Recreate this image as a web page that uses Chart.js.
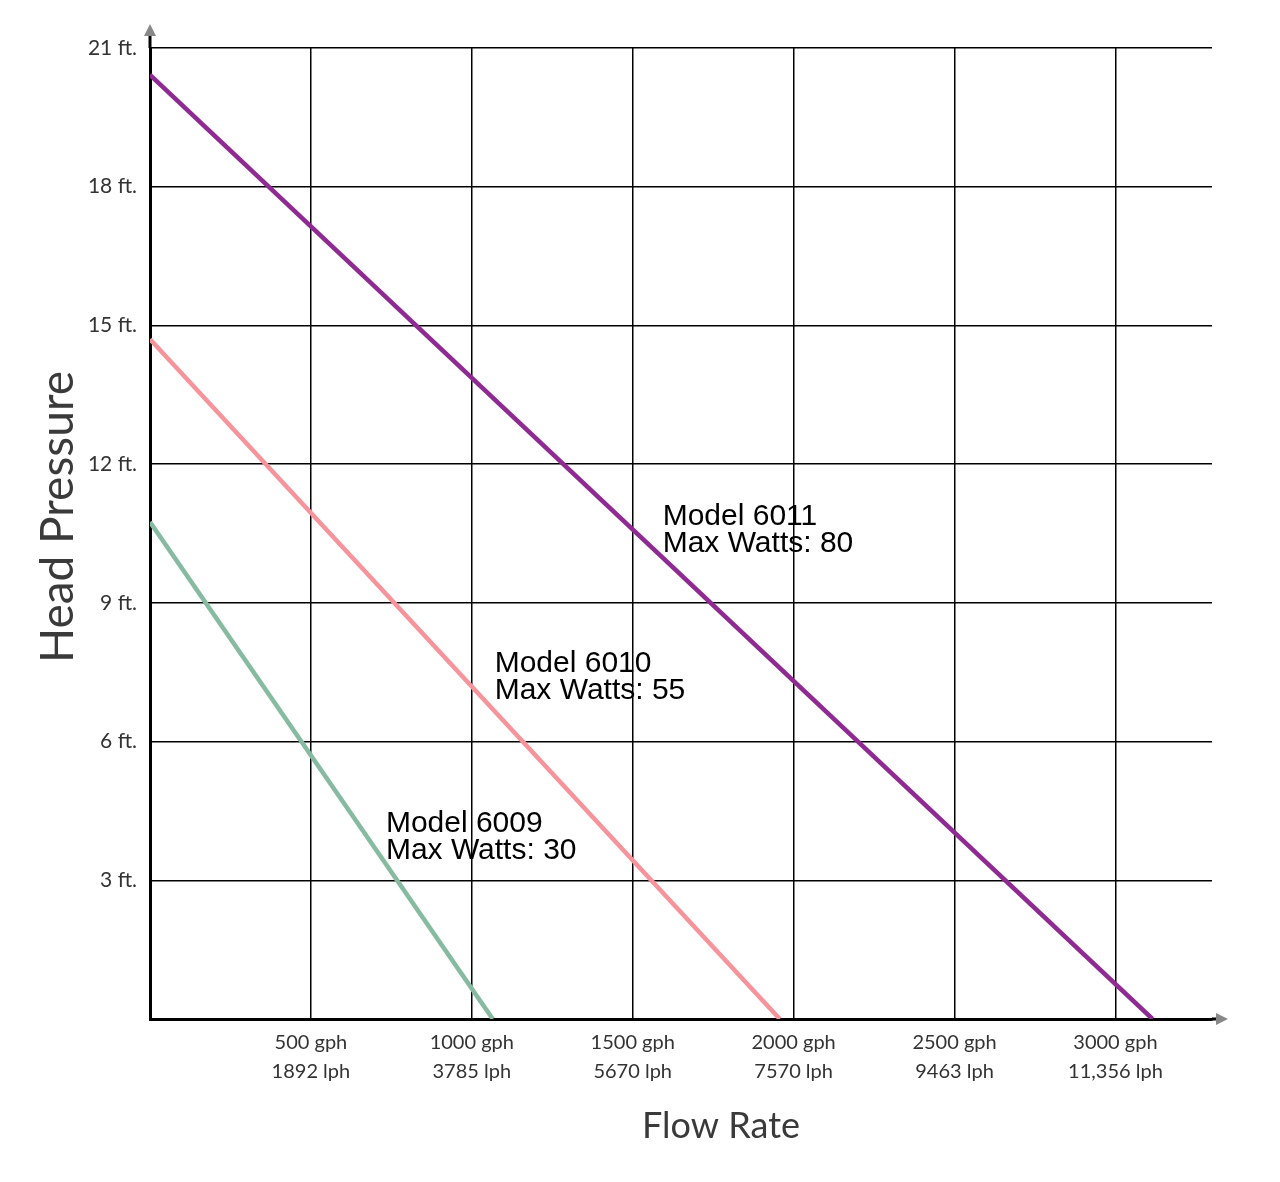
<!DOCTYPE html>
<html>
<head>
<meta charset="utf-8">
<title>Pump Flow Rate vs Head Pressure</title>
<script src="https://cdn.jsdelivr.net/npm/chart.js@4"></script>
<style>
  html, body { margin: 0; padding: 0; background: #fff; }
  #wrap { width: 1280px; height: 1182px; position: relative; }
</style>
</head>
<body>
<div id="wrap"><canvas id="pumpChart"></canvas></div>
<script>
// tick values and labels
const flowTicks = [0, 500, 1000, 1500, 2000, 2500, 3000];
const gphLabels = ['', '500 gph', '1000 gph', '1500 gph', '2000 gph', '2500 gph', '3000 gph'];
const lphLabels = ['', '1892 lph', '3785 lph', '5670 lph', '7570 lph', '9463 lph', '11,356 lph'];
const headTicks = [0, 3, 6, 9, 12, 15, 18, 21];
const headLabels = ['', '3 ft.', '6 ft.', '9 ft.', '12 ft.', '15 ft.', '18 ft.', '21 ft.'];

// pump curves (gph, ft)
const model6009Flow = [0, 1065];
const model6009Head = [10.75, 0];
const model6010Flow = [0, 1957];
const model6010Head = [14.7, 0];
const model6011Flow = [0, 3115];
const model6011Head = [20.42, 0];

// curve labels
const labelNames = ['Model 6009', 'Model 6010', 'Model 6011'];
const labelWatts = ['Max Watts: 30', 'Max Watts: 55', 'Max Watts: 80'];
const labelFlow = [733, 1071, 1593];
const labelHead = [4.05, 7.5, 10.69];

function toPoints(xs, ys) {
  return xs.map((x, i) => ({x: x, y: ys[i]}));
}

const extras = {
  id: 'extras',
  afterDatasetsDraw(chart) {
    const {ctx, chartArea, scales} = chart;
    const xs = scales.x, ys = scales.y;
    ctx.save();

    // axis extensions and arrows
    ctx.strokeStyle = '#000';
    ctx.lineWidth = 3;
    ctx.beginPath();
    ctx.moveTo(chartArea.left, chartArea.top);
    ctx.lineTo(chartArea.left, chartArea.top - 14);
    ctx.moveTo(chartArea.right, chartArea.bottom);
    ctx.lineTo(chartArea.right + 6, chartArea.bottom);
    ctx.stroke();
    ctx.fillStyle = '#888';
    ctx.beginPath();
    ctx.moveTo(chartArea.left - 6, chartArea.top - 12);
    ctx.lineTo(chartArea.left + 6, chartArea.top - 12);
    ctx.lineTo(chartArea.left, chartArea.top - 24);
    ctx.closePath();
    ctx.fill();
    ctx.beginPath();
    ctx.moveTo(chartArea.right + 4, chartArea.bottom - 6);
    ctx.lineTo(chartArea.right + 4, chartArea.bottom + 6);
    ctx.lineTo(chartArea.right + 16, chartArea.bottom);
    ctx.closePath();
    ctx.fill();

    // model labels
    ctx.fillStyle = '#000';
    ctx.font = '30px "Liberation Sans", Arial, sans-serif';
    ctx.textAlign = 'left';
    ctx.textBaseline = 'alphabetic';
    labelNames.forEach((name, i) => {
      const px = xs.getPixelForValue(labelFlow[i]);
      const py = ys.getPixelForValue(labelHead[i]);
      ctx.fillText(name, px, py);
      ctx.fillText(labelWatts[i], px, py + 27);
    });

    // axis titles
    ctx.fillStyle = '#3a3a3a';
    ctx.textAlign = 'center';
    ctx.textBaseline = 'middle';
    ctx.font = '36px Lato, sans-serif';
    ctx.fillText('Flow Rate', chartArea.left + 571, chartArea.bottom + 107);
    ctx.translate(chartArea.left - 92, chartArea.top + 469);
    ctx.rotate(-Math.PI / 2);
    ctx.font = '46px Lato, sans-serif';
    ctx.fillText('Head Pressure', 0, 0);
    ctx.restore();
  }
};

new Chart(document.getElementById('pumpChart'), {
  type: 'scatter',
  data: {
    datasets: [
      {label: 'Model 6009', data: toPoints(model6009Flow, model6009Head), borderColor: '#86bba1'},
      {label: 'Model 6010', data: toPoints(model6010Flow, model6010Head), borderColor: '#f7939a'},
      {label: 'Model 6011', data: toPoints(model6011Flow, model6011Head), borderColor: '#8e2a92'}
    ]
  },
  options: {
    responsive: true,
    maintainAspectRatio: false,
    animation: false,
    showLine: true,
    elements: {
      point: {radius: 0},
      line: {borderWidth: 4.5, tension: 0}
    },
    layout: {padding: {top: 48, right: 68, left: 0, bottom: 0}},
    plugins: {legend: {display: false}, tooltip: {enabled: false}},
    scales: {
      x: {
        type: 'linear',
        min: 0,
        max: 3300,
        afterBuildTicks: s => { s.ticks = flowTicks.map(v => ({value: v})); },
        afterFit: s => { s.height = 163; },
        border: {color: '#000', width: 3},
        grid: {color: '#000', lineWidth: 1.5, drawTicks: false},
        ticks: {
          padding: 9,
          color: '#333',
          font: {family: 'Lato', size: 20, lineHeight: 1.45},
          maxRotation: 0,
          autoSkip: false,
          callback: v => {
            const i = flowTicks.indexOf(v);
            return i > 0 ? [gphLabels[i], lphLabels[i]] : '';
          }
        }
      },
      y: {
        type: 'linear',
        min: 0,
        max: 21,
        afterBuildTicks: s => { s.ticks = headTicks.map(v => ({value: v})); },
        afterFit: s => { s.width = 150; },
        border: {color: '#000', width: 3},
        grid: {color: '#000', lineWidth: 1.5, drawTicks: false},
        ticks: {
          padding: 13,
          color: '#333',
          font: {family: 'Lato', size: 21},
          autoSkip: false,
          callback: v => {
            const i = headTicks.indexOf(v);
            return i >= 0 ? headLabels[i] : '';
          }
        }
      }
    }
  },
  plugins: [extras]
});
</script>
</body>
</html>
